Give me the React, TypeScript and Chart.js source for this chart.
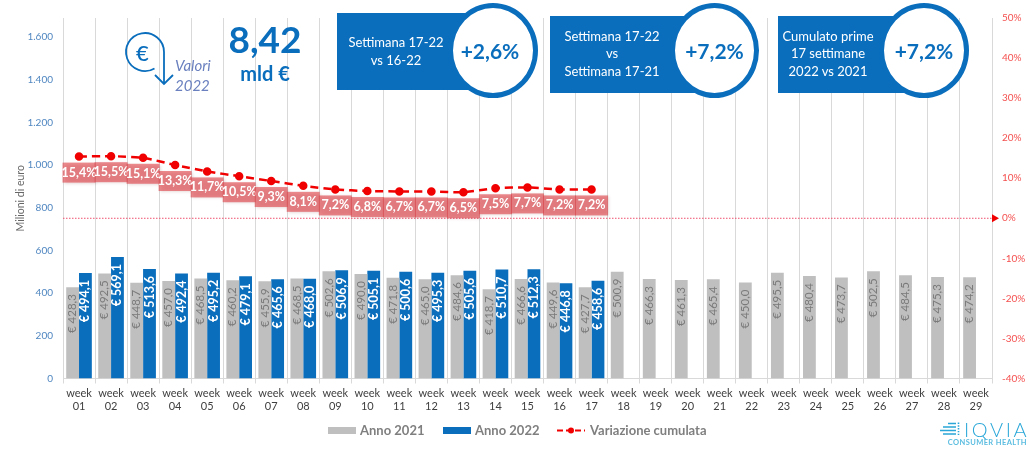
import React, { useEffect, useRef } from "react";
import { Chart, registerables } from "chart.js";

Chart.register(...registerables);

const FONT = "Lato";

const weeks = [
  "01", "02", "03", "04", "05", "06", "07", "08", "09", "10", "11", "12", "13", "14", "15",
  "16", "17", "18", "19", "20", "21", "22", "23", "24", "25", "26", "27", "28", "29",
];
const anno2021 = [
  428.3, 492.5, 448.7, 457.0, 468.5, 460.2, 455.9, 468.5, 502.6, 490.0, 471.8, 465.0, 484.6, 418.7, 466.6,
  449.6, 427.7, 500.9, 466.3, 461.3, 465.4, 450.0, 495.5, 480.4, 473.7, 502.5, 484.5, 475.3, 474.2,
];
const anno2022 = [
  494.1, 569.1, 513.6, 492.4, 495.2, 479.1, 465.6, 468.0, 506.9, 505.1, 500.6, 495.3, 505.6, 510.7, 512.3,
  446.8, 458.6,
];
const variazione = [15.4, 15.5, 15.1, 13.3, 11.7, 10.5, 9.3, 8.1, 7.2, 6.8, 6.7, 6.7, 6.5, 7.5, 7.7, 7.2, 7.2];
const leftTicks = [0, 200, 400, 600, 800, 1000, 1200, 1400, 1600];
const rightTicks = [-40, -30, -20, -10, 0, 10, 20, 30, 40, 50];

const BLUE = "#0a6ebd";
const GREY = "#bfbfbf";
const RED = "#f00000";

const comma = (v: number, d = 1) => v.toFixed(d).replace(".", ",");

// etichette dentro le barre, linea dello zero, etichette rosse e legenda
const overlayPlugin = {
  id: "overlay",
  afterDatasetsDraw(chart: any) {
    const { ctx, scales } = chart;
    const area = chart.chartArea;

    // etichette barre
    [0, 1].forEach((di) => {
      const meta = chart.getDatasetMeta(di);
      const values = di === 0 ? anno2021 : anno2022;
      meta.data.forEach((bar: any, i: number) => {
        ctx.save();
        ctx.translate(bar.x, bar.y + 7);
        ctx.rotate(-Math.PI / 2);
        ctx.textAlign = "right";
        ctx.textBaseline = "middle";
        ctx.font = di === 0 ? `11.5px ${FONT}` : `bold 12.5px ${FONT}`;
        ctx.fillStyle = di === 0 ? "#7a7a7a" : "#ffffff";
        ctx.fillText(`€ ${comma(values[i])}`, 0, 0);
        ctx.restore();
      });
    });

    // linea dello zero con freccia
    const y0 = scales.y1.getPixelForValue(0);
    ctx.save();
    ctx.strokeStyle = "#f0506e";
    ctx.lineWidth = 1;
    ctx.setLineDash([1.5, 1.5]);
    ctx.beginPath();
    ctx.moveTo(area.left, y0);
    ctx.lineTo(area.right, y0);
    ctx.stroke();
    ctx.setLineDash([]);
    ctx.fillStyle = RED;
    ctx.beginPath();
    ctx.moveTo(area.right, y0 - 4);
    ctx.lineTo(area.right + 7, y0);
    ctx.lineTo(area.right, y0 + 4);
    ctx.closePath();
    ctx.fill();
    ctx.restore();

    // etichette della variazione
    const line = chart.getDatasetMeta(2);
    line.data.forEach((pt: any, i: number) => {
      const w = 33;
      const h = 20;
      const top = pt.y + 6;
      ctx.save();
      ctx.shadowColor = "rgba(120,40,40,0.35)";
      ctx.shadowBlur = 3;
      ctx.shadowOffsetX = 1;
      ctx.shadowOffsetY = 1;
      ctx.fillStyle = "rgba(224,70,76,0.62)";
      ctx.fillRect(pt.x - w / 2, top, w, h);
      ctx.restore();
      ctx.save();
      ctx.font = `bold 12.5px ${FONT}`;
      ctx.fillStyle = "#ffffff";
      ctx.textAlign = "center";
      ctx.textBaseline = "middle";
      ctx.fillText(`${comma(variazione[i])}%`, pt.x, top + h / 2);
      ctx.restore();
    });

    // legenda
    ctx.save();
    ctx.font = `bold 13px ${FONT}`;
    ctx.textBaseline = "middle";
    const ly = 430.5;
    ctx.fillStyle = GREY;
    ctx.fillRect(328, ly - 3.5, 28, 7);
    ctx.fillStyle = BLUE;
    ctx.fillRect(443, ly - 3.5, 28, 7);
    ctx.strokeStyle = RED;
    ctx.lineWidth = 2;
    ctx.setLineDash([6, 3]);
    ctx.beginPath();
    ctx.moveTo(557, ly);
    ctx.lineTo(585, ly);
    ctx.stroke();
    ctx.setLineDash([]);
    ctx.fillStyle = RED;
    ctx.beginPath();
    ctx.arc(571, ly, 3, 0, Math.PI * 2);
    ctx.fill();
    ctx.fillStyle = "#7f7f7f";
    ctx.fillText("Anno 2021", 360, ly);
    ctx.fillText("Anno 2022", 475, ly);
    ctx.fillText("Variazione cumulata", 590, ly);
    ctx.restore();
  },
};

const boxStyle = (left: number, top: number, width: number, height: number, padRight: number): React.CSSProperties => ({
  position: "absolute",
  left,
  top,
  width,
  height,
  boxSizing: "border-box",
  paddingRight: padRight,
  background: BLUE,
  color: "#fff",
  fontSize: 13,
  lineHeight: "17.5px",
  whiteSpace: "nowrap",
  display: "flex",
  alignItems: "center",
  justifyContent: "center",
  textAlign: "center",
});

const circleStyle = (left: number, top: number, width: number, height: number, padRight = 0): React.CSSProperties => ({
  position: "absolute",
  left,
  top,
  width,
  height,
  boxSizing: "border-box",
  paddingRight: padRight,
  borderRadius: "50%",
  border: `5px solid ${BLUE}`,
  background: "#fff",
  color: BLUE,
  fontSize: 21,
  fontWeight: 700,
  display: "flex",
  alignItems: "center",
  justifyContent: "center",
});

export default function App() {
  const canvasRef = useRef<HTMLCanvasElement>(null);

  useEffect(() => {
    if (!canvasRef.current) return;
    document.body.style.margin = "0";

    const chart = new Chart(canvasRef.current, {
      type: "bar",
      data: {
        labels: weeks.map((w) => ["week", w]),
        datasets: [
          { label: "Anno 2021", data: anno2021, backgroundColor: GREY, yAxisID: "y", order: 2 },
          { label: "Anno 2022", data: anno2022, backgroundColor: BLUE, yAxisID: "y", order: 2 },
          {
            type: "line",
            label: "Variazione cumulata",
            data: variazione,
            yAxisID: "y1",
            borderColor: RED,
            backgroundColor: RED,
            borderWidth: 2.5,
            borderDash: [8, 5],
            pointRadius: 3,
            tension: 0.2,
            order: 1,
          },
        ] as any,
      },
      options: {
        responsive: false,
        animation: false,
        datasets: { bar: { categoryPercentage: 0.8, barPercentage: 1 } },
        layout: { padding: { top: 18 } },
        plugins: { legend: { display: false }, tooltip: { enabled: false } },
        scales: {
          x: {
            afterFit: (s: any) => { s.height = 70.5; },
            grid: { color: "#d9d9d9", tickLength: 5, offset: true },
            border: { color: "#d9d9d9" },
            ticks: {
              color: "#404040",
              font: { family: FONT, size: 11 },
              maxRotation: 0,
              autoSkip: false,
              padding: 3,
            },
          },
          y: {
            position: "left",
            min: 0,
            max: 1690,
            afterFit: (s: any) => { s.width = 63; },
            afterBuildTicks: (s: any) => { s.ticks = leftTicks.map((value) => ({ value })); },
            grid: { display: false },
            border: { display: false },
            ticks: {
              color: "#4f86c0",
              font: { family: FONT, size: 10 },
              padding: 2,
              callback: (v: any) => String(v).replace(/\B(?=(\d{3})+$)/g, "."),
            },
            title: {
              display: true,
              text: "Milioni di euro",
              color: "#666666",
              font: { family: FONT, size: 10.5 },
              padding: { top: 14, bottom: 0 },
            },
          },
          y1: {
            position: "right",
            min: -40,
            max: 50,
            afterFit: (s: any) => { s.width = 38; },
            afterBuildTicks: (s: any) => { s.ticks = rightTicks.map((value) => ({ value })); },
            grid: { display: false },
            border: { display: false },
            ticks: {
              color: "#f4504f",
              font: { family: FONT, size: 10 },
              padding: 2,
              callback: (v: any) => `${v}%`,
            },
          },
        },
      } as any,
      plugins: [overlayPlugin],
    });

    return () => chart.destroy();
  }, []);

  return (
    <div style={{ position: "relative", width: 1030, height: 449, overflow: "hidden", fontFamily: FONT, background: "#fff" }}>
      <canvas ref={canvasRef} width={1030} height={449} style={{ position: "absolute", left: 0, top: 0 }} />

      {/* icona euro */}
      <svg width={60} height={75} style={{ position: "absolute", left: 119, top: 30 }} viewBox="0 0 60 75" fill="none" stroke={BLUE} strokeWidth={1.8}>
        <path d="M45 22 A19 19 0 1 0 35.5 38.5 M45 22 V54 M36 45 L45 54 L54 45" />
      </svg>
      <div style={{ position: "absolute", left: 136, top: 39, fontSize: 22, color: BLUE, fontWeight: 500 }}>€</div>
      <div style={{ position: "absolute", left: 175, top: 55, fontSize: 15, lineHeight: "20px", fontStyle: "italic", color: "#6a80bf" }}>
        Valori<br />2022
      </div>
      <div style={{ position: "absolute", left: 215, top: 16, width: 100, textAlign: "center", fontSize: 37, fontWeight: 700, color: BLUE }}>8,42</div>
      <div style={{ position: "absolute", left: 215, top: 61, width: 100, textAlign: "center", fontSize: 20, fontWeight: 700, color: BLUE }}>mld €</div>

      {/* riquadri */}
      <div style={boxStyle(337, 13, 156, 77, 38)}><span>Settimana 17-22<br />vs 16-22</span></div>
      <div style={circleStyle(448, 3, 90, 95, 6)}>+2,6%</div>
      <div style={boxStyle(550, 15.5, 165, 77, 41)}><span>Settimana 17-22<br />vs<br />Settimana 17-21</span></div>
      <div style={circleStyle(670, 3, 89, 95)}>+7,2%</div>
      <div style={boxStyle(778, 15.5, 146, 77, 46)}><span>Cumulato prime<br />17 settimane<br />2022 vs 2021</span></div>
      <div style={circleStyle(879, 3, 90, 95)}>+7,2%</div>

      {/* logo */}
      <svg width={21} height={15} style={{ position: "absolute", left: 940, top: 422 }} viewBox="0 0 21 15" stroke="#2aa7d8" strokeWidth={1.6}>
        <path d="M8 1.5 H16 M3 5 H16 M0 8.5 H16 M3 12 H16" />
        <path d="M18.5 0.5 V14" strokeDasharray="1.4 1.4" />
      </svg>
      <div style={{ position: "absolute", left: 964, top: 417, fontSize: 20, fontWeight: 300, letterSpacing: 2.6, whiteSpace: "nowrap", color: "#2aa7d8" }}>IQVIA</div>
      <div style={{ position: "absolute", right: 3, top: 438, fontSize: 7.5, fontWeight: 700, letterSpacing: 0.4, whiteSpace: "nowrap", color: "#5cbde0" }}>CONSUMER HEALTH</div>
    </div>
  );
}
